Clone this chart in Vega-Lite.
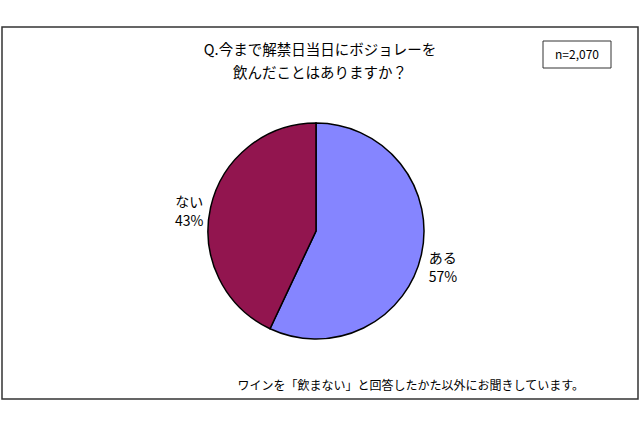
{
  "$schema": "https://vega.github.io/schema/vega-lite/v6.json",
  "description": "Q.今まで解禁日当日にボジョレーを飲んだことはありますか？",
  "autosize": {"type": "fit", "contains": "padding"},
  "width": 640,
  "height": 426,
  "padding": {"left": 1, "top": 26, "right": 1, "bottom": 26},
  "background": "white",
  "config": {
    "view": {"stroke": null},
    "font": "Noto Sans CJK JP"
  },
  "layer": [
    {
      "data": {"values": [{"line1": "Q.今まで解禁日当日にボジョレーを", "line2": "飲んだことはありますか？"}]},
      "transform": [{"calculate": "[datum.line1, datum.line2]", "as": "title"}],
      "layer": [
        {
          "mark": {
            "type": "rect",
            "x": 0,
            "x2": {"expr": "width"},
            "y": 0,
            "y2": {"expr": "height"},
            "fill": "white",
            "stroke": "#333333",
            "strokeWidth": 1.5
          },
          "encoding": {}
        },
        {
          "mark": {
            "type": "text",
            "x": {"expr": "width / 2"},
            "y": 24,
            "align": "center",
            "baseline": "middle",
            "lineHeight": 23,
            "fontSize": 14.5,
            "color": "black"
          },
          "encoding": {"text": {"field": "title"}}
        }
      ]
    },
    {
      "data": {"values": [{"note": "n=2,070"}]},
      "layer": [
        {
          "mark": {
            "type": "rect",
            "x": {"expr": "width - 95"},
            "x2": {"expr": "width - 27"},
            "y": 14,
            "y2": 41,
            "fill": "white",
            "stroke": "#333333",
            "strokeWidth": 1
          },
          "encoding": {}
        },
        {
          "mark": {
            "type": "text",
            "x": {"expr": "width - 61"},
            "y": 28,
            "align": "center",
            "baseline": "middle",
            "fontSize": 12,
            "color": "black"
          },
          "encoding": {"text": {"field": "note"}}
        }
      ]
    },
    {
      "data": {"values": [{"foot": "ワインを「飲まない」と回答したかた以外にお聞きしています。"}]},
      "mark": {
        "type": "text",
        "x": {"expr": "width - 54"},
        "y": {"expr": "height - 13"},
        "align": "right",
        "baseline": "middle",
        "fontSize": 12,
        "color": "black"
      },
      "encoding": {"text": {"field": "foot"}}
    },
    {
      "data": {
        "values": [
          {"answer": "ある", "share": 57},
          {"answer": "ない", "share": 43}
        ]
      },
      "transform": [{"calculate": "[datum.answer, datum.share + '%']", "as": "label"}],
      "encoding": {
        "theta": {"field": "share", "type": "quantitative", "stack": true}
      },
      "layer": [
        {
          "mark": {
            "type": "arc",
            "outerRadius": 108,
            "x": {"expr": "width / 2 - 4"},
            "y": {"expr": "height / 2 + 18"},
            "stroke": "black",
            "strokeWidth": 1.5
          },
          "encoding": {
            "color": {
              "field": "answer",
              "type": "nominal",
              "scale": {"domain": ["ある", "ない"], "range": ["#8585FF", "#92154F"]},
              "legend": null
            }
          }
        },
        {
          "mark": {
            "type": "text",
            "radius": 130,
            "x": {"expr": "width / 2 - 4"},
            "y": {"expr": "height / 2 + 18"},
            "align": "center",
            "baseline": "middle",
            "lineHeight": 19,
            "fontSize": 14,
            "color": "black"
          },
          "encoding": {
            "detail": {"field": "answer", "type": "nominal"},
            "text": {"field": "label"}
          }
        }
      ]
    }
  ]
}
